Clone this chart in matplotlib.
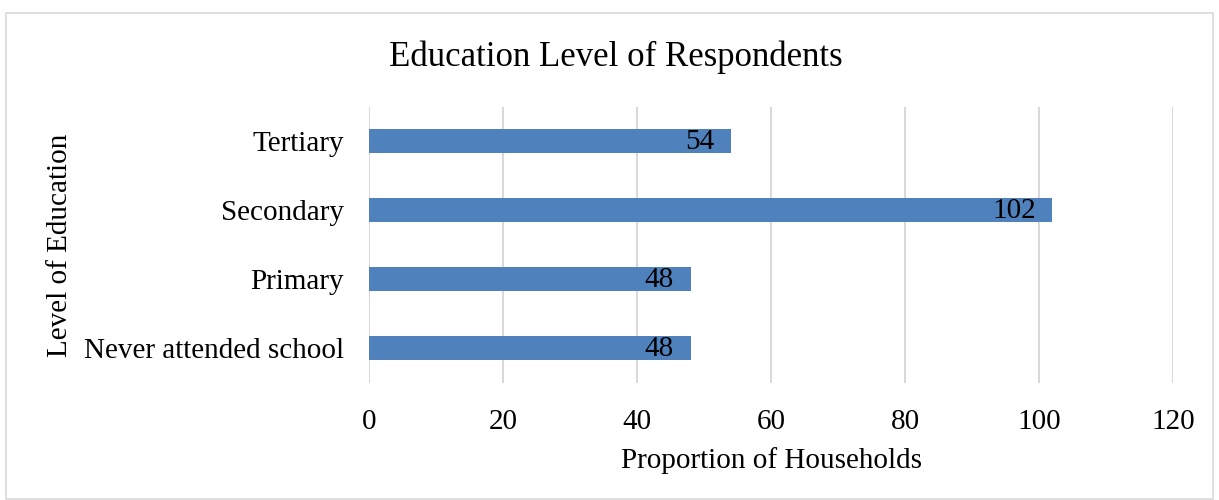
import matplotlib.pyplot as plt
from matplotlib.patches import Rectangle

# respondents by highest level of education
levels = ['Never attended school', 'Primary', 'Secondary', 'Tertiary']
households = [48, 48, 102, 54]
xticks = [0, 20, 40, 60, 80, 100, 120]

plt.rcParams['font.family'] = ['Liberation Serif', 'DejaVu Serif']

fig = plt.figure(figsize=(12.19, 5), dpi=100)
ax = fig.add_axes([0.3027, 0.235, 0.6596, 0.552])

bar_color = '#4F81BD'
bars = ax.barh(levels, households, height=0.35, color=bar_color, zorder=3)

# value labels sit just inside the end of each bar
for rect, val in zip(bars, households):
    ax.annotate(str(val), (val, rect.get_y() + rect.get_height() / 2),
                xytext=(-12, -1), textcoords='offset points',
                ha='right', va='center', fontsize=21, color='black', zorder=4)

ax.set_xlim(0, 120)
ax.set_ylim(-0.5, 3.5)
ax.set_xticks(xticks)
ax.xaxis.grid(True, color='#D9D9D9', linewidth=1.5, zorder=0)
ax.set_axisbelow(True)
for s in ax.spines.values():
    s.set_visible(False)
ax.tick_params(axis='both', length=0, labelsize=21)
ax.tick_params(axis='y', pad=18)
ax.tick_params(axis='x', pad=19)

ax.set_xlabel('Proportion of Households', fontsize=21, labelpad=9)
fig.text(0.049, 0.51, 'Level of Education', rotation=90, fontsize=21,
         ha='center', va='center')
fig.text(0.505, 0.885, 'Education Level of Respondents', fontsize=25,
         ha='center', va='center')

# thin frame around the whole chart area
fig.patches.append(Rectangle((0.005, 0.002), 0.99, 0.972, transform=fig.transFigure,
                             fill=False, edgecolor='#D9D9D9', linewidth=1.2))

fig.savefig('out.png', dpi=100, facecolor='white')
